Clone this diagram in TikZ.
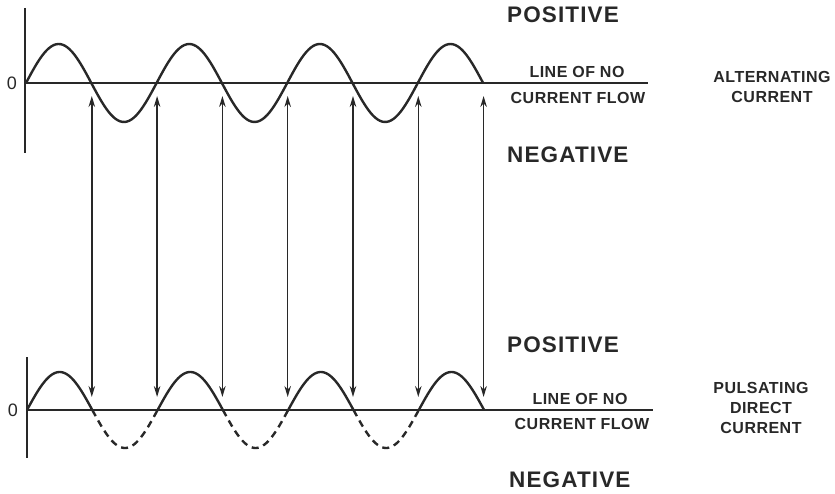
\documentclass[tikz,border=0pt]{standalone}
\usepackage{fontspec}
\setmainfont{Liberation Sans}
\newfontfamily\widefont[LetterSpace=5]{Liberation Sans}
\newfontfamily\smallfont[LetterSpace=3]{Liberation Sans}
\usepackage{tikz}
\usetikzlibrary{arrows.meta, positioning}
\definecolor{ink}{RGB}{40, 40, 40}

\begin{document}
\begin{tikzpicture}[x=1pt, y=-1pt, >=Stealth,
  wave/.style={draw=ink, line width=2.4pt},
  dashwave/.style={wave, dash pattern=on 7pt off 5pt},
  axis/.style={draw=ink, line width=1.3pt},
  link/.style={draw=ink, line width=1.4pt, shorten <=13pt, shorten >=13pt, {Stealth[length=11pt, width=6.5pt]}-{Stealth[length=11pt, width=6.5pt]}},
  big/.style={inner sep=0pt, anchor=west, text=ink, font=\widefont\fontsize{22.5}{22.5}\selectfont\bfseries},
  small/.style={inner sep=0pt, text=ink, align=center, font=\smallfont\fontsize{16}{20}\selectfont\bfseries},
  zero/.style={inner sep=0pt, text=ink, font=\fontsize{18}{18}\selectfont}
]
  \useasboundingbox (0,0) rectangle (835,494);

  % Axes
  \draw[axis] (25,8) -- (25,153);
  \draw[axis] (25,83) -- (648,83);
  \draw[axis] (27,357) -- (27,458);
  \draw[axis] (27,410) -- (653,410);
  \node[zero] (z1) at (12,83) {0};
  \node[zero] (z2) at (13,410) {0};

  % Alternating current
  \draw[wave] plot[domain=0:7, samples=200, smooth] ({26+65.3*\x}, {83-39*sin(180*\x)});

  % Pulsating direct current
  \foreach \k in {0,2,4,6}
    \draw[wave] plot[domain=\k:\k+1, samples=40, smooth] ({27+65.3*\x}, {410-38*sin(180*\x)});
  \foreach \k in {1,3,5}
    \draw[dashwave] plot[domain=\k:\k+1, samples=40, smooth] ({27+65.3*\x}, {410-38*sin(180*\x)});

  % Crossing points
  \foreach \k in {1,...,7} {
    \coordinate (a\k) at ({26.5+65.3*\k}, 83);
    \coordinate (b\k) at ({26.5+65.3*\k}, 410);
    \draw[link] (a\k) -- (b\k);
  }

  % Labels
  \node[big] (pos1) at (507,15) {POSITIVE};
  \node[small] (line1) at (577,72) {LINE OF NO};
  \node[small] (flow1) at (578,98) {CURRENT FLOW};
  \node[big] (neg1) at (507,155) {NEGATIVE};
  \node[small] (ac) at (772,87) {ALTERNATING\\CURRENT};

  \node[big] (pos2) at (507,345) {POSITIVE};
  \node[small] (line2) at (580,399) {LINE OF NO};
  \node[small] (flow2) at (582,424) {CURRENT FLOW};
  \node[big] (neg2) at (509,480) {NEGATIVE};
  \node[small] (dc) at (761,408) {PULSATING\\DIRECT\\CURRENT};
\end{tikzpicture}
\end{document}
